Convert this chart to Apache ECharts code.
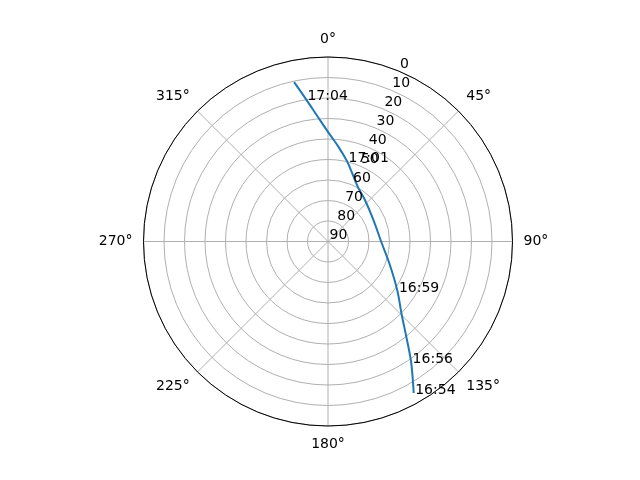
<!DOCTYPE html>
<html>
<head>
<meta charset="utf-8">
<script src="https://cdn.jsdelivr.net/npm/echarts@6/dist/echarts.min.js"></script>
<style>
html, body { margin: 0; padding: 0; background: #fff; }
#main { width: 640px; height: 480px; }
</style>
</head>
<body>
<div id="main"></div>
<script>
// pass track (azimuth deg, elevation deg)
var azimuth = [150.5, 145.4, 140.2, 134.9, 125.5, 110.8, 91.6, 64.6, 41.7, 28.8, 17.8, 13.3, 6.0, 1.1, 355.4, 351.2, 348.0];
var elevation = [5.1, 18.6, 30.6, 39.2, 48.4, 57.7, 63.8, 65.5, 62.9, 59.7, 53.4, 49.7, 43.2, 38.0, 29.1, 19.7, 10.5];
var timeLabels = ['16:54', '16:56', '', '', '16:59', '', '', '', '', '', '', '17:01', '', '', '', '17:04', ''];
var rTicks = [0, 10, 20, 30, 40, 50, 60, 70, 80, 90];
var rLabelAngle = 22.5;

var font = 'DejaVu Sans';

var trackData = [];
var labelData = [];
for (var i = 0; i < azimuth.length; i++) {
    trackData.push([elevation[i], azimuth[i]]);
    if (timeLabels[i]) {
        labelData.push({ value: [elevation[i], azimuth[i]], name: timeLabels[i] });
    }
}

var chart = echarts.init(document.getElementById('main'), null, { renderer: 'canvas' });
chart.setOption({
    backgroundColor: '#fff',
    animation: false,
    polar: {
        center: [328, 241.5],
        radius: 184.5
    },
    angleAxis: {
        type: 'value',
        min: 0,
        max: 360,
        interval: 45,
        startAngle: 90,
        clockwise: true,
        axisLine: { show: true, lineStyle: { color: '#000', width: 1 } },
        axisTick: { show: false },
        axisLabel: {
            margin: 11,
            color: '#000',
            fontFamily: font,
            fontSize: 14,
            formatter: function(v) { return v === 360 ? '' : v + '°'; }
        },
        splitLine: { show: true, lineStyle: { color: '#b0b0b0', width: 1 } }
    },
    radiusAxis: {
        type: 'value',
        min: 0,
        max: 90,
        interval: 10,
        inverse: true,
        axisLine: { show: false },
        axisTick: { show: false },
        axisLabel: { show: false },
        splitLine: { show: true, lineStyle: { color: '#b0b0b0', width: 1 } }
    },
    series: [
        {
            type: 'line',
            coordinateSystem: 'polar',
            data: trackData,
            showSymbol: false,
            symbol: 'none',
            smooth: 0.3,
            lineStyle: { color: '#1f77b4', width: 2 },
            z: 3
        },
        {
            // radial tick labels
            type: 'scatter',
            coordinateSystem: 'polar',
            symbolSize: 1,
            itemStyle: { color: 'rgba(0,0,0,0)', opacity: 1 },
            data: rTicks.map(function(v) { return [v, rLabelAngle]; }),
            label: {
                show: true,
                position: [0, 0],
                align: 'left',
                verticalAlign: 'bottom',
                offset: [2, 1],
                color: '#000',
                fontFamily: font,
                fontSize: 14,
                formatter: function(p) { return p.value[0]; }
            },
            z: 4
        },
        {
            // time labels along the track
            type: 'scatter',
            coordinateSystem: 'polar',
            symbolSize: 1,
            itemStyle: { color: 'rgba(0,0,0,0)', opacity: 1 },
            data: labelData,
            label: {
                show: true,
                position: [0, 0],
                align: 'left',
                verticalAlign: 'bottom',
                offset: [2, 5],
                color: '#000',
                fontFamily: font,
                fontSize: 14,
                formatter: function(p) { return p.name; }
            },
            z: 5
        }
    ]
});
</script>
</body>
</html>
